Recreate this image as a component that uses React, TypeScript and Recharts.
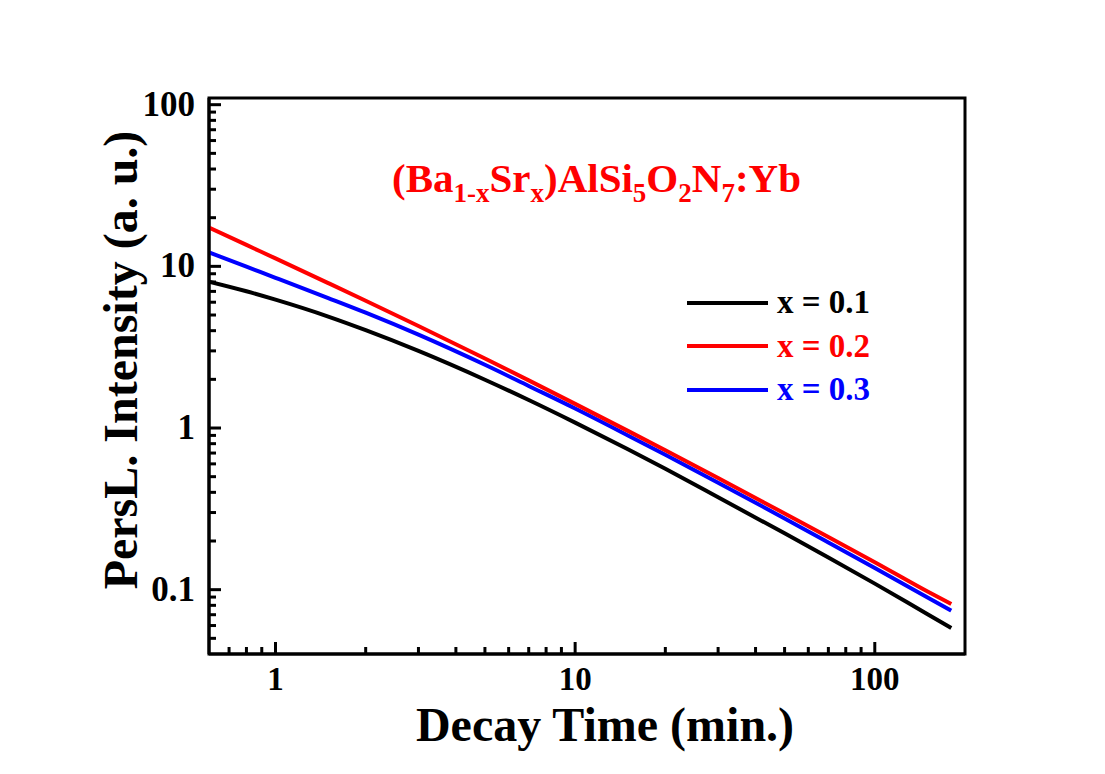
import React from 'react'
import {
  LineChart, Line, XAxis, YAxis, Legend, Customized, ReferenceArea,
} from 'recharts'

const FONT = '"Liberation Serif", "Times New Roman", serif'

// decay time (min.) and PersL intensity (a. u.)
const TIME = [0.6, 0.8, 1, 1.5, 2, 3, 5, 7, 10, 15, 20, 30, 50, 70, 100, 150, 180]
const X01  = [8.04, 7.01, 6.22, 4.89, 4.03, 3.0, 1.99, 1.49, 1.08, 0.738, 0.559, 0.373, 0.223, 0.158, 0.109, 0.0705, 0.058]
const X02  = [17.4, 13.57, 11.2, 7.88, 6.13, 4.28, 2.69, 1.97, 1.41, 0.96, 0.728, 0.491, 0.296, 0.212, 0.148, 0.0974, 0.0815]
const X03  = [12.2, 9.95, 8.5, 6.37, 5.17, 3.78, 2.46, 1.82, 1.32, 0.90, 0.683, 0.459, 0.276, 0.196, 0.136, 0.0896, 0.0742]

const SERIES_NAMES  = ['x = 0.1', 'x = 0.2', 'x = 0.3']
const SERIES_COLORS = ['#000000', '#FF0000', '#0000FF']

const X_TICKS = [0.7, 0.8, 0.9, 1, 2, 3, 4, 5, 6, 7, 8, 9, 10, 20, 30, 40, 50, 60, 70, 80, 90, 100]
const X_MAJOR = [1, 10, 100]
const Y_TICKS = [
  0.05, 0.06, 0.07, 0.08, 0.09, 0.1,
  0.2, 0.3, 0.4, 0.5, 0.6, 0.7, 0.8, 0.9, 1,
  2, 3, 4, 5, 6, 7, 8, 9, 10,
  20, 30, 40, 50, 60, 70, 80, 90, 100,
]
const Y_MAJOR = [0.1, 1, 10, 100]

const X_DOMAIN = [0.6, 200]
const Y_DOMAIN = [0.04, 110]

const data = TIME.map((t, i) => ({ t, a: X01[i], b: X02[i], c: X03[i] }))

const YTick = ({ x, y, payload }: any) => {
  const major = Y_MAJOR.includes(payload.value)
  return (
    <g>
      <line x1={x} x2={x + (major ? 12 : 7)} y1={y} y2={y} stroke="#000" strokeWidth={3} />
      {major && (
        <text x={x - 14} y={y + 11} textAnchor="end" fontFamily={FONT} fontWeight="bold" fontSize={35} fill="#000">
          {String(payload.value)}
        </text>
      )}
    </g>
  )
}

const XTick = ({ x, y, payload }: any) => {
  const major = X_MAJOR.includes(payload.value)
  return (
    <g>
      <line x1={x} x2={x} y1={y} y2={y - (major ? 12 : 7)} stroke="#000" strokeWidth={3} />
      {major && (
        <text x={x} y={y + 36} textAnchor="middle" fontFamily={FONT} fontWeight="bold" fontSize={33} fill="#000">
          {String(payload.value)}
        </text>
      )}
    </g>
  )
}

const Formula = () => (
  <text x={392} y={192} fontFamily={FONT} fontWeight="bold" fontSize={41} fill="#FF0000">
    <tspan>(Ba</tspan>
    <tspan fontSize={27} dy={10}>1-x</tspan>
    <tspan dy={-10}>Sr</tspan>
    <tspan fontSize={27} dy={10}>x</tspan>
    <tspan dy={-10}>)AlSi</tspan>
    <tspan fontSize={27} dy={10}>5</tspan>
    <tspan dy={-10}>O</tspan>
    <tspan fontSize={27} dy={10}>2</tspan>
    <tspan dy={-10}>N</tspan>
    <tspan fontSize={27} dy={10}>7</tspan>
    <tspan dy={-10}>:Yb</tspan>
  </text>
)

const AxisTitles = () => (
  <g fontFamily={FONT} fontWeight="bold" fontSize={48} fill="#000">
    <text x={605} y={741} textAnchor="middle">Decay Time (min.)</text>
    <text x={137} y={360} textAnchor="middle" transform="rotate(-90, 137, 360)">
      PersL. Intensity (a. u.)
    </text>
  </g>
)

const LegendBox = () => (
  <div style={{ fontFamily: FONT, fontWeight: 'bold', fontSize: 33 }}>
    {SERIES_NAMES.map((name, i) => (
      <div key={name} style={{ display: 'flex', alignItems: 'center', height: 43.5 }}>
        <div style={{ width: 81, height: 4, background: SERIES_COLORS[i], marginRight: 9 }} />
        <span style={{ color: SERIES_COLORS[i], lineHeight: 1 }}>{name}</span>
      </div>
    ))}
  </div>
)

export default function App() {
  return (
    <div style={{ position: 'absolute', left: 0, top: 0, width: 1105, height: 774, background: '#fff' }}>
      <LineChart
        width={1105}
        height={774}
        data={data}
        margin={{ top: 98, right: 140, bottom: 40, left: 129 }}
      >
        <XAxis
          dataKey="t"
          type="number"
          scale="log"
          domain={X_DOMAIN}
          allowDataOverflow
          ticks={X_TICKS}
          interval={0}
          tick={<XTick />}
          tickLine={false}
          tickSize={0}
          tickMargin={0}
          height={80}
          axisLine={{ stroke: '#000', strokeWidth: 3 }}
        />
        <YAxis
          type="number"
          scale="log"
          domain={Y_DOMAIN}
          allowDataOverflow
          ticks={Y_TICKS}
          interval={0}
          tick={<YTick />}
          tickLine={false}
          tickSize={0}
          tickMargin={0}
          width={80}
          axisLine={{ stroke: '#000', strokeWidth: 3 }}
        />
        <ReferenceArea
          x1={X_DOMAIN[0]}
          x2={X_DOMAIN[1]}
          y1={Y_DOMAIN[0]}
          y2={Y_DOMAIN[1]}
          fill="none"
          stroke="#000"
          strokeWidth={3}
          ifOverflow="visible"
        />
        <Line type="monotone" dataKey="a" name={SERIES_NAMES[0]} stroke={SERIES_COLORS[0]} strokeWidth={4} dot={false} isAnimationActive={false} />
        <Line type="monotone" dataKey="c" name={SERIES_NAMES[2]} stroke={SERIES_COLORS[2]} strokeWidth={4} dot={false} isAnimationActive={false} />
        <Line type="monotone" dataKey="b" name={SERIES_NAMES[1]} stroke={SERIES_COLORS[1]} strokeWidth={4} dot={false} isAnimationActive={false} />
        <Legend
          layout="vertical"
          align="center"
          verticalAlign="middle"
          content={<LegendBox />}
          wrapperStyle={{ left: 687, top: 281, width: 220 }}
        />
        <Customized component={<Formula />} />
        <Customized component={<AxisTitles />} />
      </LineChart>
    </div>
  )
}
